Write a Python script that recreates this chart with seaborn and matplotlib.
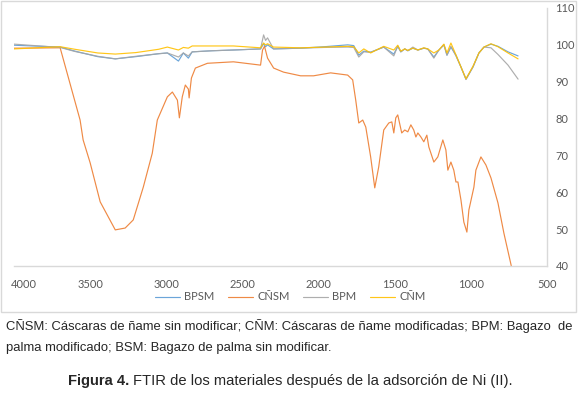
import pandas as pd
import numpy as np
import matplotlib
matplotlib.use("Agg")
import matplotlib.pyplot as plt
import matplotlib.transforms as mtransforms
from matplotlib.lines import Line2D
from matplotlib.patches import Rectangle
import seaborn as sns

# FTIR spectra (wavenumber in cm-1, transmittance %)
wn_cnsm = [4000, 3697, 3566, 3546, 3500, 3434, 3335, 3270, 3217, 3151, 3092, 3059,
           2993, 2960, 2927, 2914, 2895, 2875, 2855, 2850, 2835, 2809, 2730, 2559,
           2381, 2368, 2355, 2335, 2295, 2230, 2118, 2033, 1921, 1809, 1776, 1756,
           1736, 1710, 1690, 1658, 1631, 1605, 1572, 1539, 1519, 1506, 1493, 1480,
           1454, 1434, 1414, 1394, 1375, 1361, 1348, 1328, 1309, 1289, 1276, 1243,
           1217, 1184, 1164, 1151, 1131, 1112, 1098, 1085, 1065, 1046, 1026, 1013,
           980, 967, 934, 901, 868, 822, 783, 736, 690]
t_cnsm = [99.1, 99.2, 79.6, 74.2, 68, 57.4, 49.8, 50.3, 52.5, 61.4, 70.6, 79.6,
          85.9, 87.2, 85, 80.2, 85.9, 89.1, 88, 85.6, 91, 93.7, 95, 95.4,
          94.5, 98.6, 99.6, 96.4, 93.7, 92.6, 91.6, 91.6, 92.4, 91.8, 90.5, 85,
          78.8, 79.6, 77.7, 69.6, 61.2, 66.9, 76.9, 78.8, 79.1, 76.1, 80.2, 81,
          76.1, 76.9, 76.4, 78.3, 76.9, 75, 76.1, 75, 73.7, 75.5, 72.3, 68.2,
          69.6, 74.2, 71.5, 66, 68.2, 66, 62.8, 62.8, 57.9, 51.9, 49.2, 55.2,
          61.4, 66, 69.6, 67.4, 63.9, 57.1, 48.9, 40.3, 32]

wn_common = [4000, 3697, 3600, 3450, 3335, 3200, 3050, 2993, 2920, 2888, 2855, 2830,
             2700, 2559, 2381, 2361, 2348, 2335, 2296, 2118, 1960, 1809, 1769, 1736,
             1703, 1658, 1572, 1506, 1480, 1460, 1434, 1414, 1381, 1348, 1309, 1283,
             1243, 1210, 1177, 1157, 1131, 1098, 1065, 1032, 986, 947, 914, 868,
             822, 756, 690]
t_bpsm = [99.9, 99.4, 98.3, 96.8, 96.2, 96.8, 97.6, 97.8, 95.6, 97.8, 96.4, 98.1,
          98.4, 98.6, 98.9, 100.3, 99.5, 100, 98.9, 99.1, 99.5, 100, 99.8, 97.2,
          98.3, 98, 99.4, 97.5, 99.6, 98.1, 98.9, 98.4, 99.1, 98.6, 99.1, 98.9,
          96.7, 98.6, 100, 97.2, 99.4, 97.2, 94, 90.7, 94, 97.8, 99.4, 100.2,
          99.6, 98.1, 97]
t_bpm = [100.2, 99.3, 98.2, 96.9, 96.2, 96.9, 97.6, 97.8, 96.7, 97.8, 97, 98.1,
         98.4, 98.6, 98.9, 102.7, 101.2, 101.9, 98.9, 99.1, 99.3, 99.4, 99.3, 96.7,
         98.1, 98, 99.4, 97, 99.7, 98.1, 98.9, 98.4, 99.4, 98.6, 99.1, 98.9,
         96.4, 98.6, 100, 97.2, 99.6, 97, 94, 90.6, 94, 97.8, 99.4, 99.2,
         97.4, 94.5, 90.7]
t_cnm = [98.9, 99.5, 98.8, 97.8, 97.5, 97.9, 98.8, 99.4, 98.6, 99.3, 99.1, 99.7,
         99.7, 99.7, 99.2, 100.5, 100, 100.3, 99.4, 99.2, 99.4, 99.6, 99.5, 97.8,
         98.9, 97.8, 99.6, 98.6, 99.9, 98.3, 98.9, 98.5, 99.1, 98.6, 99.2, 98.9,
         97.8, 98.6, 100.2, 97.8, 100.5, 97.3, 94, 90.8, 94.2, 97.8, 99.4, 100.3,
         99.5, 97.8, 96.2]

series = ["BPSM", "CÑSM", "BPM", "CÑM"]
colors = ["#5B9BD5", "#ED7D31", "#A5A5A5", "#FFC000"]
y_ticks = [40, 50, 60, 70, 80, 90, 100, 110]
x_ticks = [4000, 3500, 3000, 2500, 2000, 1500, 1000, 500]

frames = [
    pd.DataFrame({"wn": wn_common, "T": t_bpsm, "serie": "BPSM"}),
    pd.DataFrame({"wn": wn_cnsm, "T": t_cnsm, "serie": "CÑSM"}),
    pd.DataFrame({"wn": wn_common, "T": t_bpm, "serie": "BPM"}),
    pd.DataFrame({"wn": wn_common, "T": t_cnm, "serie": "CÑM"}),
]
df = pd.concat(frames, ignore_index=True)

sns.set_style("white")
plt.rcParams["font.family"] = ["Lato", "DejaVu Sans"]

W, H = 580, 399
fig = plt.figure(figsize=(W / 100, H / 100), dpi=100)
ax = fig.add_axes([14 / W, 1 - 266 / H, (547 - 14) / W, (266 - 8) / H])

sns.lineplot(data=df, x="wn", y="T", hue="serie", hue_order=series,
             palette=colors, sort=False, estimator=None, linewidth=0.85,
             alpha=0.9, legend=False, ax=ax)

ax.set_xlim(4000, 500)
ax.set_ylim(40, 110)
ax.set_xticks(x_ticks)
ax.set_yticks(y_ticks)
ax.yaxis.tick_right()
ax.set_xlabel("")
ax.set_ylabel("")
ax.tick_params(axis="both", length=0, labelsize=8, labelcolor="#595959")
ax.tick_params(axis="x", pad=9)
ax.tick_params(axis="y", pad=6)
for side in ["left", "top"]:
    ax.spines[side].set_visible(False)
for side in ["right", "bottom"]:
    ax.spines[side].set_color("#d9d9d9")
    ax.spines[side].set_linewidth(1.0)

# Excel pushes the first category label inside the chart
first = ax.get_xticklabels()[0]
first.set_transform(first.get_transform() +
                    mtransforms.ScaledTranslation(10 / 100, 0, fig.dpi_scale_trans))

handles = [Line2D([], [], color=c, lw=0.85, alpha=0.9) for c in colors]
fig.legend(handles, series, loc="center", bbox_to_anchor=(290 / W, 1 - 297 / H),
           ncol=4, frameon=False, fontsize=8, labelcolor="#595959",
           handlelength=2.25, handletextpad=0.4, columnspacing=1.2)

# chart border
fig.patches.append(Rectangle((1 / W, 1 - 312 / H), 575 / W, 311 / H,
                             transform=fig.transFigure, fill=False,
                             edgecolor="#d9d9d9", linewidth=1.0))

# caption below the chart
cap_font = "Liberation Sans"
line1 = "CÑSM: Cáscaras de ñame sin modificar; CÑM: Cáscaras de ñame modificadas; BPM: Bagazo de"
line2 = "palma modificado; BSM: Bagazo de palma sin modificar."

fig.canvas.draw()
r = fig.canvas.get_renderer()

# justify the first line by padding the word gaps with extra spaces
probe = fig.text(0, 0, line1, fontsize=9.4, family=cap_font)
w0 = probe.get_window_extent(r).width
probe.set_text("a a")
wa = probe.get_window_extent(r).width
probe.set_text("aa")
space_w = wa - probe.get_window_extent(r).width
probe.remove()

words = line1.split(" ")
n_gaps = len(words) - 1
n_extra = max(0, int(round((571 - 6 - w0) / space_w)))
justified = words[0]
for i, w in enumerate(words[1:]):
    k = (n_extra * (i + 1)) // n_gaps - (n_extra * i) // n_gaps
    justified += " " * (1 + k) + w

fig.text(6 / W, 1 - 330 / H, justified, fontsize=9.4, family=cap_font, va="baseline")
fig.text(6 / W, 1 - 351 / H, line2, fontsize=9.4, family=cap_font, va="baseline")

tb = fig.text(0, 1 - 385 / H, "Figura 4.", fontsize=10.6, family=cap_font,
              weight="bold", va="baseline")
tn = fig.text(0, 1 - 385 / H, "FTIR de los materiales después de la adsorción de Ni (II).",
              fontsize=10.6, family=cap_font, va="baseline")
wb = tb.get_window_extent(r).width
wt = tn.get_window_extent(r).width
start = 290 - (wb + 4 + wt) / 2
tb.set_x(start / W)
tn.set_x((start + wb + 4) / W)

fig.savefig("out.png", dpi=100)
